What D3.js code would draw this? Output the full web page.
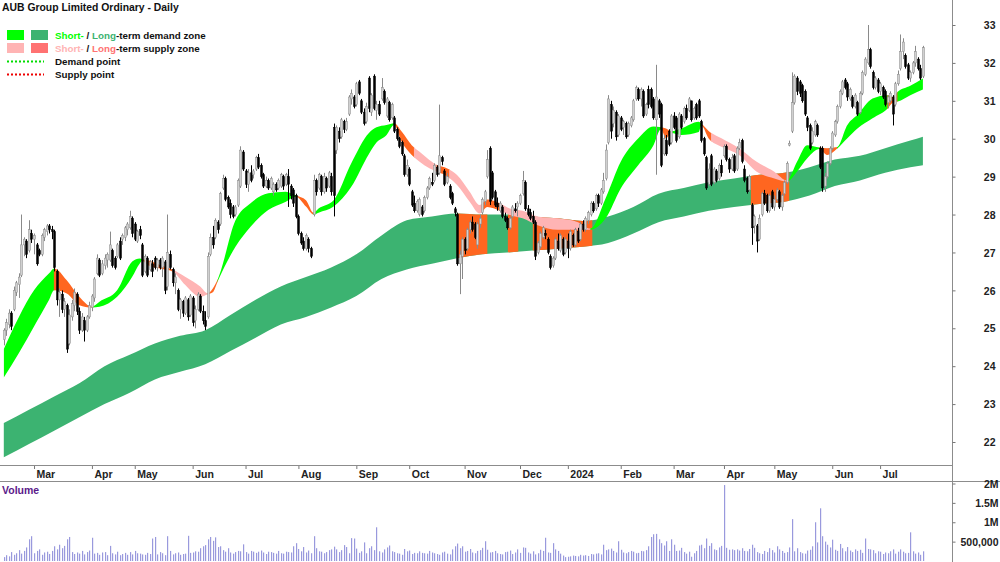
<!DOCTYPE html>
<html>
<head>
<meta charset="utf-8">
<script src="https://cdn.jsdelivr.net/npm/d3@7"></script>
<style>
  body { margin: 0; background: #fff; }
  svg { display: block; font-family: Arial, "Liberation Sans", sans-serif; }
</style>
</head>
<body>
<div id="chart"></div>
<script>
// daily prices, Feb 2023 - Jul 2024 (one value per trading day)
var open = [
  24.7,24.95,25.1,25.4,25.5,25.95,26.15,26.4,27.2,27.3,
  27.05,27.5,27.35,27.2,27.05,26.95,27.4,27.55,27.7,27.6,
  27.55,26.5,25.75,25.9,25.5,25.6,24.6,25.3,25.6,25.9,
  25.45,24.95,25.2,24.95,25.3,25.55,25.8,26.45,26.8,26.45,
  26.65,26.8,26.8,27.05,26.85,26.9,27.3,27.35,27.4,27.6,
  27.65,27.9,27.75,27.3,27.6,27.2,26.5,26.85,26.55,26.7,
  26.85,26.6,26.8,26.6,26.75,26.1,26.95,26.55,26.2,26.0,
  25.5,25.7,25.4,25.75,25.35,25.8,25.2,25.5,25.85,25.45,
  25.2,25.3,26.95,27.4,27.4,27.8,27.75,28.7,28.95,28.45,
  28.3,28.2,28.0,28.25,28.75,29.65,29.15,28.8,29.1,29.05,
  29.2,29.5,29.3,29.05,28.75,28.9,28.7,28.6,28.8,28.7,
  28.75,29.0,28.8,29.0,28.75,28.65,28.5,27.95,27.5,27.3,
  27.1,27.35,27.1,28.0,28.9,28.7,29.0,28.6,28.95,28.75,
  29.0,30.3,29.7,30.2,30.05,30.45,30.25,30.65,31.05,31.1,
  30.9,31.5,31.0,30.7,30.45,31.6,30.7,31.65,30.75,30.9,
  31.05,31.25,30.6,30.95,30.55,30.55,30.25,30.0,29.9,29.55,
  29.05,29.2,28.6,28.3,28.1,28.0,28.2,28.1,28.45,28.7,
  28.85,28.9,29.25,29.1,29.5,29.15,28.85,28.75,28.55,28.15,
  28.0,26.7,26.9,27.35,27.1,27.6,27.8,27.75,27.2,27.75,
  28.05,28.35,29.0,29.75,29.1,28.6,28.3,28.1,28.2,27.95,
  27.9,27.65,27.95,28.15,28.2,28.3,28.55,28.85,28.15,28.05,
  27.95,27.8,27.0,27.15,27.4,27.5,27.35,26.9,26.65,26.85,
  27.3,27.05,27.35,27.0,27.3,27.1,27.45,27.2,27.55,27.35,
  27.75,27.6,27.85,28.0,28.3,28.15,28.5,28.3,28.6,28.95,
  29.9,30.9,30.4,30.7,30.1,30.55,30.3,30.4,30.1,30.35,
  30.5,31.05,31.3,31.05,31.25,30.65,31.3,31.3,31.05,30.5,
  31.0,30.9,29.6,29.95,30.2,29.9,30.6,30.55,30.05,30.6,
  30.45,30.8,30.75,31.0,30.55,30.9,31.0,30.45,30.0,29.5,
  28.8,29.55,28.85,29.15,28.95,29.3,29.55,29.8,29.45,29.2,
  29.55,29.2,29.75,29.95,29.2,28.95,28.65,28.25,27.7,27.7,
  27.35,28.0,28.55,28.5,28.1,28.6,28.2,28.4,28.6,28.2,
  28.55,28.85,29.83,30.2,30.95,31.6,31.5,31.4,31.25,30.55,
  30.35,29.9,30.1,30.35,29.75,29.75,28.75,29.0,29.35,29.75,
  30.1,30.45,30.85,31.2,31.55,31.45,31.05,31.1,30.85,30.95,
  30.7,31.2,31.7,32.0,32.35,31.75,31.35,31.55,31.25,31.35,
  31.25,30.95,31.0,31.1,30.9,31.45,31.85,32.3,32.2,31.95,
  31.6,31.75,32.0,32.1,31.85,31.65
];
var high = [
  25.0,25.25,25.5,25.45,26.1,26.25,26.45,28.0,27.4,27.35,
  27.85,27.6,27.5,27.25,27.1,27.5,27.65,27.75,27.75,27.7,
  27.6,26.55,26.05,26.0,25.8,25.65,25.5,25.75,26.05,25.95,
  25.55,25.4,25.3,25.35,25.7,25.9,26.35,26.95,26.85,26.8,
  26.95,27.0,27.55,27.1,26.9,27.25,27.4,27.5,27.7,27.8,
  28.1,27.95,27.8,27.6,27.7,27.25,26.95,26.9,26.8,26.8,
  26.9,26.85,26.85,26.9,26.8,28.0,27.05,26.6,26.45,26.05,
  25.8,25.75,25.85,25.8,25.9,25.85,25.6,25.95,25.9,25.6,
  25.45,27.0,27.5,27.7,27.9,27.85,28.6,29.05,29.0,28.5,
  28.4,28.25,28.25,28.95,29.8,29.7,29.2,29.2,29.3,29.2,
  29.55,29.6,29.35,29.1,29.0,28.95,29.0,28.85,28.85,28.95,
  29.1,29.05,29.1,29.2,28.8,28.7,28.55,28.0,27.55,27.4,
  27.5,27.4,27.15,29.05,28.95,29.1,29.05,29.1,29.0,29.15,
  29.1,30.4,30.35,30.3,30.55,30.5,30.55,31.15,31.3,31.15,
  31.5,31.55,31.05,30.8,30.95,31.65,31.2,31.7,31.0,31.0,
  31.6,31.3,31.1,31.0,30.95,30.6,30.3,30.05,29.95,29.6,
  29.45,29.25,28.65,28.5,28.4,28.45,28.25,28.5,28.75,29.0,
  29.1,29.35,29.3,30.9,29.55,29.2,29.1,28.8,28.6,28.2,
  28.05,27.05,27.4,27.4,27.65,27.85,27.95,27.8,27.8,28.0,
  28.45,28.65,29.7,29.8,29.15,28.65,28.45,28.35,28.25,28.05,
  27.95,27.95,28.25,28.3,28.35,28.55,29.15,28.9,28.25,28.15,
  28.1,27.85,27.3,27.55,27.7,27.6,27.4,26.95,26.9,27.4,
  27.5,27.5,27.4,27.4,27.5,27.6,27.5,27.65,27.65,27.8,
  27.85,27.95,28.1,28.35,28.35,28.55,28.55,28.7,29.1,29.85,
  31.15,31.0,30.85,30.75,30.65,30.6,30.5,30.45,30.45,30.6,
  31.05,31.4,31.35,31.35,31.3,30.95,31.4,31.35,31.1,31.95,
  31.05,30.95,30.1,30.1,30.25,30.65,30.7,30.6,30.7,30.65,
  30.85,30.9,31.1,31.0,30.85,30.95,31.05,30.5,30.05,29.55,
  29.35,29.6,29.25,29.2,29.35,29.45,29.85,29.85,29.5,29.6,
  29.6,29.8,30.0,30.0,29.3,29.0,29.05,28.3,28.0,27.75,
  28.0,28.6,28.65,28.55,28.55,28.65,28.5,28.7,28.65,28.55,
  28.9,29.4,29.95,31.75,31.7,31.65,31.55,31.45,31.3,30.6,
  30.4,30.3,30.5,30.4,29.8,29.8,29.1,29.4,29.8,30.2,
  30.5,30.9,31.3,31.55,31.6,31.5,31.35,31.15,31.2,31.0,
  31.25,31.8,32.15,33.0,32.4,31.8,31.65,31.6,31.5,31.4,
  31.3,31.15,31.25,31.15,31.5,31.8,32.75,32.65,32.25,32.0,
  31.8,32.05,32.45,32.15,31.95,32.45
];
var low = [
  24.55,24.8,25.0,24.95,25.45,25.85,25.8,26.35,26.9,26.85,
  27.0,27.25,26.95,26.65,26.9,26.9,27.3,27.45,27.5,27.35,
  26.5,25.6,25.3,25.4,25.3,24.35,24.55,25.2,25.45,25.35,
  24.85,24.9,24.65,24.9,25.25,25.45,25.7,26.4,26.35,26.4,
  26.55,26.6,26.75,26.6,26.55,26.85,26.8,27.2,27.3,27.45,
  27.6,27.4,27.3,27.25,27.35,26.35,26.45,26.35,26.5,26.35,
  26.55,26.5,26.55,26.35,25.9,26.0,26.55,26.1,25.9,25.45,
  25.25,25.3,25.35,25.2,25.3,25.05,25.0,25.45,25.4,25.1,
  24.95,25.25,26.9,27.1,27.35,27.5,27.7,28.65,28.35,28.15,
  27.9,27.9,27.95,28.2,28.7,29.15,28.7,28.6,28.85,28.95,
  29.15,29.2,28.95,28.7,28.7,28.65,28.65,28.5,28.6,28.65,
  28.7,28.65,28.75,28.2,28.4,28.2,27.9,27.45,27.2,27.05,
  27.05,27.0,26.85,27.95,28.5,28.65,28.5,28.55,28.6,28.7,
  28.5,27.95,29.6,29.9,30.0,30.15,30.2,30.6,30.9,30.8,
  30.85,31.15,30.65,30.35,30.4,30.7,30.6,30.75,30.5,30.6,
  31.0,30.9,30.55,30.45,30.5,30.15,29.95,29.75,29.55,29.0,
  29.0,28.75,28.2,28.05,28.05,27.95,27.95,28.05,28.4,28.65,
  28.75,28.85,29.0,29.05,29.3,28.75,28.8,28.4,28.25,27.95,
  26.65,25.9,26.3,26.95,27.05,27.5,27.55,27.35,27.1,27.65,
  28.0,28.25,28.95,28.25,28.4,28.2,28.1,28.05,27.9,27.8,
  27.6,27.6,27.9,28.05,27.95,28.25,28.5,28.1,27.95,27.85,
  27.75,26.8,26.95,27.1,27.35,27.35,26.95,26.55,26.6,26.8,
  27.05,27.0,26.9,26.95,26.85,27.05,27.15,27.15,27.25,27.3,
  27.55,27.55,27.75,27.95,28.05,28.1,28.2,28.25,28.55,28.9,
  29.85,30.0,30.3,29.95,30.05,30.2,30.1,30.0,30.05,30.3,
  30.45,31.0,31.0,30.85,30.55,30.6,30.8,30.8,30.5,29.05,
  30.55,29.25,29.55,29.55,29.8,29.85,30.25,29.9,30.0,30.25,
  30.4,30.5,30.7,30.45,30.5,30.5,30.55,29.9,29.55,28.65,
  28.75,28.75,28.8,28.85,28.9,29.0,29.5,29.4,29.1,29.15,
  29.1,29.15,29.7,29.35,28.85,28.55,28.6,27.2,27.5,27.0,
  27.3,27.95,28.25,28.05,28.05,28.15,28.1,28.35,28.15,28.1,
  28.5,28.8,29.8,30.15,30.9,31.15,31.1,30.95,30.6,30.2,
  29.7,29.85,30.05,30.05,29.2,28.6,28.6,28.95,29.3,29.7,
  30.05,30.4,30.8,31.15,31.3,31.0,31.0,30.8,30.8,30.6,
  30.65,31.15,31.65,31.95,31.85,31.3,31.3,31.2,31.15,31.05,
  30.85,30.8,30.95,30.35,30.85,31.4,31.8,32.1,31.85,31.55,
  31.5,31.7,31.9,31.8,31.55,31.6
];
var close = [
  24.95,25.15,25.4,25.05,26.0,26.2,26.35,27.2,27.35,26.95,
  27.6,27.35,27.45,26.7,26.95,27.45,27.6,27.7,27.6,27.55,
  26.6,25.75,25.95,25.5,25.7,24.45,25.35,25.65,25.95,25.45,
  24.95,25.3,24.95,25.3,25.6,25.85,26.3,26.85,26.4,26.7,
  26.85,26.95,27.2,26.65,26.6,27.2,26.85,27.45,27.65,27.75,
  27.95,27.5,27.35,27.55,27.45,26.4,26.9,26.4,26.75,26.5,
  26.6,26.8,26.6,26.85,26.0,27.0,26.6,26.2,26.35,25.5,
  25.75,25.4,25.8,25.3,25.85,25.15,25.5,25.9,25.45,25.2,
  25.05,26.9,27.4,27.2,27.85,27.6,28.55,28.95,28.4,28.2,
  28.0,27.95,28.2,28.9,29.7,29.2,28.8,29.1,28.9,29.15,
  29.5,29.25,29.0,28.75,28.9,28.7,28.95,28.8,28.65,28.9,
  29.05,28.75,29.05,28.8,28.5,28.3,27.95,27.5,27.25,27.1,
  27.45,27.1,26.9,28.9,28.6,29.05,28.6,29.0,28.7,29.1,
  28.6,28.5,30.3,30.0,30.5,30.25,30.45,31.1,31.2,30.85,
  31.45,31.2,30.7,30.4,30.85,30.8,31.15,30.8,30.9,30.65,
  31.35,30.95,31.05,30.5,30.9,30.2,30.0,29.8,29.6,29.05,
  29.3,28.8,28.25,28.1,28.35,28.4,28.0,28.45,28.7,28.95,
  28.8,29.3,29.05,29.55,29.4,28.8,29.0,28.45,28.3,28.05,
  26.7,26.95,27.35,27.05,27.6,27.8,27.6,27.4,27.75,27.9,
  28.4,28.6,29.45,28.35,28.45,28.25,28.2,28.3,27.95,27.85,
  27.65,27.9,28.2,28.1,28.3,28.5,28.9,28.15,28.0,27.9,
  27.8,26.9,27.25,27.5,27.65,27.45,27.0,26.6,26.85,27.35,
  27.1,27.45,26.95,27.35,27.1,27.55,27.2,27.6,27.3,27.75,
  27.6,27.9,28.05,28.3,28.1,28.5,28.3,28.65,28.9,29.7,
  31.05,30.2,30.75,30.05,30.6,30.25,30.45,30.05,30.4,30.55,
  31.0,31.35,31.05,31.3,30.6,30.9,30.9,30.85,30.55,31.1,
  30.65,29.3,30.0,29.6,29.85,30.6,30.3,29.95,30.65,30.3,
  30.8,30.55,31.05,30.5,30.8,30.55,30.6,29.95,29.6,28.7,
  29.2,28.8,29.2,28.9,29.3,29.1,29.8,29.45,29.2,29.5,
  29.15,29.75,29.9,29.4,28.9,28.6,29.0,27.65,27.95,27.3,
  27.9,28.55,28.3,28.1,28.5,28.2,28.4,28.65,28.2,28.5,
  28.85,29.35,29.88,30.95,31.65,31.25,31.2,31.0,30.65,30.3,
  29.75,30.2,30.45,30.1,29.25,28.7,29.0,29.35,29.75,30.15,
  30.45,30.85,31.25,31.5,31.35,31.1,31.3,30.85,31.15,30.65,
  31.2,31.75,32.1,32.35,31.9,31.35,31.6,31.25,31.45,31.1,
  30.9,31.1,31.2,30.65,31.45,31.7,32.3,32.55,31.9,31.6,
  31.75,32.0,32.3,31.85,31.6,32.4
];
// daily volume, thousands of shares
var volume = [
  100,150,120,230,160,200,280,190,260,350,
  560,640,200,260,300,160,220,240,180,260,
  380,300,420,330,390,560,620,230,180,220,
  190,260,170,230,270,600,190,210,160,220,
  230,150,390,200,170,240,150,180,210,160,
  230,170,260,200,190,170,160,210,180,580,
  620,170,230,200,150,640,260,170,200,220,
  160,180,190,650,210,220,250,240,330,380,
  410,560,620,520,610,360,380,280,240,330,
  220,190,230,260,250,430,230,190,260,240,
  210,240,270,220,180,240,230,210,190,260,
  200,190,240,230,220,380,460,310,250,360,
  220,270,200,640,330,250,240,200,230,280,
  300,370,300,230,280,410,360,200,590,580,
  320,210,250,480,200,330,380,280,870,250,
  220,300,350,400,250,230,200,190,160,310,
  250,270,180,210,200,250,210,200,190,260,
  220,200,180,160,220,240,190,170,300,380,
  450,330,380,240,260,310,220,200,260,280,
  340,510,290,220,230,260,200,180,170,230,
  240,270,180,220,300,210,350,340,220,190,
  250,170,200,290,260,600,220,210,460,300,
  260,190,140,100,110,120,140,130,120,160,
  140,150,130,180,170,190,200,170,420,280,
  300,320,260,220,510,290,220,200,230,260,
  240,200,210,260,250,280,380,620,690,700,
  560,460,400,510,260,560,420,260,270,340,
  230,190,240,110,200,260,400,420,330,580,
  390,460,300,280,350,390,1960,340,290,300,
  280,300,270,330,260,250,310,420,340,230,
  200,180,260,230,330,280,220,380,300,260,
  210,230,350,1080,250,330,230,200,190,270,
  290,380,1000,480,1360,640,500,420,350,550,
  290,260,440,330,250,360,270,230,300,260,
  290,210,580,310,300,280,200,250,240,180,
  220,200,250,300,190,240,300,240,200,210,
  740,250,190,220,160,250
];

// date axis: day index of each month start
var monthIdx = [12,35,52,75,96,117,140,161,183,205,224,245,266,286,306,329,348];
var monthLabels = ["Mar","Apr","May","Jun","Jul","Aug","Sep","Oct","Nov","Dec","2024","Feb","Mar","Apr","May","Jun","Jul"];
var priceTicks = [22,23,24,25,26,27,28,29,30,31,32,33];
var volTicks = [500,1000,1500,2000];
var volLabels = ["500,000","1M","1.5M","2M"];

// long-term zone edges
var longIdx = [0,10,20,30,40,50,60,70,80,90,100,110,120,130,140,150,160,170,180,190,200,210,220,230,240,250,260,270,280,290,300,310,320,330,340,350,360,365];
var longTop = [22.5,22.85,23.2,23.55,24.0,24.3,24.6,24.8,24.95,25.35,25.75,26.1,26.35,26.6,26.95,27.45,27.85,27.95,28.03,28.0,28.0,27.95,27.9,27.83,27.95,28.2,28.55,28.7,28.85,28.95,29.05,29.1,29.25,29.45,29.55,29.75,29.95,30.05];
var longBot = [21.6,21.95,22.3,22.65,23.0,23.3,23.65,23.85,24.05,24.4,24.75,25.1,25.3,25.55,25.85,26.3,26.55,26.7,26.85,26.95,27.0,27.05,27.1,27.15,27.25,27.5,27.8,27.95,28.1,28.2,28.28,28.34,28.5,28.75,28.9,29.1,29.25,29.3];
// day ranges where the long-term zone turns to supply
var longSupply = [[180.4,191.9],[200.3,204.2],[210.2,233.6],[296.8,311.8]];

// short-term zone edges
var shortIdx = [0,6,12,18,20,25,30,35,38,45,51,54,55,57,62,67,72,78,81,83,85,92,98,105,112,116,120,123,125,131,138,145,148,152,155,158,162,165,169,172,175,180,185,189,192,197,201,206,212,220,228,233,239,245,252,258,261,263,265,269,276,277,280,285,292,299,306,311,315,319,324,327,331,335,339,345,351,353,355,360,365];
var shortTop = [24.45,25.3,26.0,26.45,26.58,26.27,25.83,25.57,25.7,26.0,26.76,26.84,26.82,26.8,26.67,26.55,26.36,26.1,25.92,26.05,26.3,27.85,28.3,28.56,28.6,28.5,28.38,28.05,28.16,28.38,29.35,30.15,30.3,30.36,30.41,30.19,29.83,29.66,29.44,29.31,29.25,29.04,28.6,28.25,28.4,28.3,28.16,28.1,27.95,27.9,27.8,27.63,28.43,29.39,30.01,30.32,30.3,30.27,30.2,30.27,30.45,30.4,30.2,30.01,29.75,29.39,29.13,28.9,29.39,29.83,29.77,29.75,29.78,30.36,30.63,31.06,31.15,31.1,31.24,31.4,31.59];
var shortBot = [23.7,24.35,25.05,25.75,26.0,25.92,25.61,25.55,25.57,25.83,26.36,26.71,26.78,26.67,26.58,26.5,26.15,25.83,25.9,25.95,26.25,27.15,27.68,28.12,28.34,28.47,28.21,28.0,28.05,28.21,28.73,29.6,29.9,30.1,30.36,29.92,29.57,29.4,29.22,29.13,29.05,28.78,28.34,28.03,28.2,28.1,27.99,27.9,27.72,27.6,27.6,27.6,27.9,28.69,29.31,29.83,30.25,30.01,30.15,30.1,30.18,30.35,30.0,29.79,29.57,29.13,28.95,28.87,29.13,29.48,29.73,29.57,29.74,30.01,30.27,30.54,30.8,30.95,30.98,31.15,31.3];
// short-term zone colour by day range: d = demand, p = supply, o = strong supply
var shortZones = [[0,20,"d"],[20,35.5,"o"],[35.5,55,"d"],[55,67,"o"],[67,81,"p"],[81,85,"o"],[85,116,"d"],[116,123,"o"],[123,155,"d"],[155,163,"o"],[163,172,"p"],[172,177,"o"],[177,190,"p"],[190,197,"o"],[197,233,"p"],[233,261,"d"],[261,265,"o"],[265,277,"d"],[277,281,"o"],[281,311.5,"p"],[311.5,324,"d"],[324,331,"o"],[331,351,"d"],[351,355,"o"],[355,365,"d"]];

var zoneColor = { d: "#00ff00", p: "#ffb4b4", o: "#ff6620" };

var svg = d3.select("#chart").append("svg")
  .attr("width", 1000)
  .attr("height", 562);

var x = d3.scaleLinear().domain([0, 365]).range([3.8, 922.9]);
var y = d3.scaleLinear().domain([22, 33]).range([442, 25]);
var vy = d3.scaleLinear().domain([0, 2000]).range([561, 483.5]);

var defs = svg.append("defs");
defs.append("clipPath").attr("id", "plotclip")
  .append("rect").attr("x", 0).attr("y", 0).attr("width", 952).attr("height", 465);

var plot = svg.append("g").attr("clip-path", "url(#plotclip)");

var band = d3.area()
  .x((d) => x(d.i))
  .y0((d) => y(d.lo))
  .y1((d) => y(d.hi))
  .curve(d3.curveMonotoneX);

var longData = longIdx.map((d, k) => ({ i: d, hi: longTop[k], lo: longBot[k] }));
var shortData = shortIdx.map((d, k) => ({ i: d, hi: shortTop[k], lo: shortBot[k] }));

// clip a band to a range of days
function rangeClip(id, a, b) {
  defs.append("clipPath").attr("id", id)
    .append("rect")
    .attr("x", x(a) - 0.3)
    .attr("width", x(b) - x(a) + 0.6)
    .attr("y", 0)
    .attr("height", 465);
  return "url(#" + id + ")";
}

// long-term zone
plot.append("path").datum(longData).attr("d", band).attr("fill", "#3cb371");
longSupply.forEach((s, k) => {
  plot.append("path").datum(longData).attr("d", band)
    .attr("fill", zoneColor.o)
    .attr("clip-path", rangeClip("ls" + k, s[0], s[1]));
});

// short-term zone
shortZones.forEach((s, k) => {
  plot.append("path").datum(shortData).attr("d", band)
    .attr("fill", zoneColor[s[2]])
    .attr("clip-path", rangeClip("ss" + k, s[0], s[1]));
});

// candles
var days = d3.range(close.length);
var up = (i) => close[i] >= open[i];

plot.selectAll(".wick").data(days).enter().append("line")
  .attr("class", "wick")
  .attr("x1", (i) => Math.round(x(i)) + 0.5)
  .attr("x2", (i) => Math.round(x(i)) + 0.5)
  .attr("y1", (i) => y(high[i]))
  .attr("y2", (i) => y(low[i]))
  .attr("stroke", (i) => (up(i) ? "#8a8a8a" : "#000"))
  .attr("stroke-width", 1);

plot.selectAll(".body").data(days).enter().append("rect")
  .attr("class", "body")
  .attr("x", (i) => Math.round(x(i)) - 0.5)
  .attr("width", 2)
  .attr("y", (i) => y(Math.max(open[i], close[i])))
  .attr("height", (i) => Math.max(1, Math.abs(y(open[i]) - y(close[i]))))
  .attr("fill", (i) => (up(i) ? "#d0d0d0" : "#000"))
  .attr("stroke", (i) => (up(i) ? "#8a8a8a" : "#000"))
  .attr("stroke-width", 0.5);

// volume bars
svg.append("g").selectAll("rect").data(days).enter().append("rect")
  .attr("x", (i) => Math.round(x(i)))
  .attr("width", 1.2)
  .attr("y", (i) => vy(volume[i]))
  .attr("height", (i) => vy(0) - vy(volume[i]))
  .attr("fill", "#9999dd");

// frame lines
svg.append("line").attr("x1", 952.5).attr("x2", 952.5).attr("y1", 0).attr("y2", 562).attr("stroke", "#8c8c8c");
svg.append("line").attr("x1", 0).attr("x2", 952.5).attr("y1", 465.5).attr("y2", 465.5).attr("stroke", "#8c8c8c");
svg.append("line").attr("x1", 0).attr("x2", 1000).attr("y1", 481.5).attr("y2", 481.5).attr("stroke", "#8c8c8c");

// price axis
var yAxis = svg.append("g")
  .attr("transform", "translate(952.5,0)")
  .call(d3.axisRight(y).tickValues(priceTicks).tickSize(3).tickFormat(d3.format("d")));
yAxis.select(".domain").remove();
yAxis.attr("font-family", "Arial, 'Liberation Sans', sans-serif");
yAxis.selectAll("line").attr("stroke", "#777");
yAxis.selectAll("text")
  .attr("x", 43).attr("dy", "0.35em")
  .attr("text-anchor", "end")
  .attr("font-size", 10.5).attr("font-weight", "bold").attr("fill", "#222");

// volume axis
var vAxis = svg.append("g")
  .attr("transform", "translate(952.5,0)")
  .call(d3.axisRight(vy).tickValues(volTicks).tickSize(3).tickFormat((d, k) => volLabels[k]));
vAxis.select(".domain").remove();
vAxis.attr("font-family", "Arial, 'Liberation Sans', sans-serif");
vAxis.selectAll("line").attr("stroke", "#777");
vAxis.selectAll("text")
  .attr("x", 46).attr("dy", "0.35em")
  .attr("text-anchor", "end")
  .attr("font-size", 10.5).attr("font-weight", "bold").attr("fill", "#222");

// date axis
var xAxis = svg.append("g")
  .attr("transform", "translate(0,466)")
  .call(d3.axisBottom(x).tickValues(monthIdx).tickSize(3).tickFormat((d, k) => monthLabels[k]));
xAxis.select(".domain").remove();
xAxis.attr("font-family", "Arial, 'Liberation Sans', sans-serif");
xAxis.selectAll("line").attr("stroke", "#777");
xAxis.selectAll("text")
  .attr("x", 2).attr("y", 12).attr("dy", 0)
  .attr("text-anchor", "start")
  .attr("font-size", 10.5).attr("font-weight", "bold").attr("fill", "#222");

// title and legend
svg.append("text").attr("x", 2).attr("y", 11)
  .attr("font-size", 10.4).attr("font-weight", "bold").attr("fill", "#111")
  .text("AUB Group Limited Ordinary - Daily");

var legend = svg.append("g");
legend.append("rect").attr("x", 7).attr("y", 30).attr("width", 17).attr("height", 10).attr("fill", "#00ff00");
legend.append("rect").attr("x", 31).attr("y", 30).attr("width", 17).attr("height", 10).attr("fill", "#3cb371");
legend.append("rect").attr("x", 7).attr("y", 43).attr("width", 17).attr("height", 10).attr("fill", "#ffb4b4");
legend.append("rect").attr("x", 31).attr("y", 43).attr("width", 17).attr("height", 10).attr("fill", "#ff7272");
legend.append("line").attr("x1", 7).attr("x2", 44).attr("y1", 61.5).attr("y2", 61.5)
  .attr("stroke", "#00dd00").attr("stroke-width", 2).attr("stroke-dasharray", "2,2");
legend.append("line").attr("x1", 7).attr("x2", 44).attr("y1", 74.5).attr("y2", 74.5)
  .attr("stroke", "#ee0000").attr("stroke-width", 2).attr("stroke-dasharray", "2,2");

var rows = [
  [["Short-", "#00ff00"], [" / ", "#111"], ["Long", "#3cb371"], ["-term demand zone", "#111"]],
  [["Short-", "#ffb4b4"], [" / ", "#111"], ["Long", "#ff7272"], ["-term supply zone", "#111"]],
  [["Demand point", "#111"]],
  [["Supply point", "#111"]]
];
rows.forEach((r, k) => {
  var t = legend.append("text").attr("x", 55).attr("y", 38.5 + k * 13)
    .attr("font-size", 9.8).attr("font-weight", "bold");
  r.forEach((p) => t.append("tspan").attr("fill", p[1]).text(p[0]));
});

svg.append("text").attr("x", 2).attr("y", 494)
  .attr("font-size", 10.5).attr("font-weight", "bold").attr("fill", "#5b1a8a")
  .text("Volume");
</script>
</body>
</html>
